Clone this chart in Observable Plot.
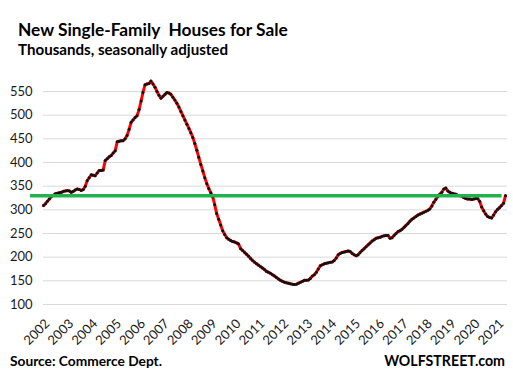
<!DOCTYPE html>
<html>
<head>
<meta charset="utf-8">
<script src="https://cdn.jsdelivr.net/npm/d3@7"></script>
<script src="https://cdn.jsdelivr.net/npm/@observablehq/plot@0.6"></script>
<style>
  body { margin: 0; background: #fff; }
  #chart { width: 513px; height: 382px; overflow: hidden; }
</style>
</head>
<body>
<div id="chart"></div>
<script>
// ---- Data: new single-family houses for sale, thousands, SA (monthly) ----
const startYear = 2002;
const v2002 = [309, 313, 318, 323, 328, 331, 334, 335, 336, 337, 339, 340];
const v2003 = [341, 340, 337, 339, 342, 344, 343, 341, 343, 350, 362, 368];
const v2004 = [374, 373, 372, 378, 383, 383, 384, 404, 408, 412, 415, 420];
const v2005 = [425, 444, 445, 446, 446, 450, 457, 470, 485, 490, 495, 499];
const v2006 = [512, 530, 548, 564, 566, 567, 572, 566, 559, 550, 542, 536];
const v2007 = [540, 544, 548, 547, 544, 538, 532, 525, 517, 508, 499, 490];
const v2008 = [481, 472, 463, 453, 440, 426, 411, 396, 382, 368, 355, 345];
const v2009 = [336, 327, 311, 292, 280, 268, 256, 248, 241, 238, 235, 233];
const v2010 = [232, 230, 228, 218, 214, 210, 206, 202, 197, 193, 189, 186];
const v2011 = [183, 180, 177, 174, 170, 168, 166, 163, 160, 157, 154, 151];
const v2012 = [149, 147, 146, 145, 144, 143, 142, 143, 145, 147, 149, 151];
const v2013 = [151, 152, 155, 160, 163, 168, 175, 182, 184, 186, 187, 188];
const v2014 = [189, 190, 193, 198, 205, 208, 210, 211, 212, 213, 212, 208];
const v2015 = [205, 203, 205, 210, 214, 218, 222, 226, 230, 234, 237, 240];
const v2016 = [241, 242, 244, 245, 246, 246, 240, 241, 246, 250, 254, 256];
const v2017 = [259, 263, 267, 271, 276, 280, 283, 286, 289, 291, 293, 295];
const v2018 = [297, 299, 302, 308, 316, 322, 328, 333, 337, 344, 346, 340];
const v2019 = [337, 335, 334, 333, 331, 330, 329, 326, 324, 323, 323, 322];
const v2020 = [323, 324, 324, 318, 306, 298, 291, 286, 284, 283, 289, 296];
const v2021 = [301, 305, 309, 314, 330];

const yTicks = [100, 150, 200, 250, 300, 350, 400, 450, 500, 550];
const xTickLabels = ["2002","2003","2004","2005","2006","2007","2008","2009","2010","2011",
                     "2012","2013","2014","2015","2016","2017","2018","2019","2020","2021"];
const refLevel = [330];
const refSpan = ["2001-06-15", "2021-03-10"];

const titleText = "New Single-Family  Houses for Sale";
const subtitleText = "Thousands, seasonally adjusted";
const sourceText = "Source: Commerce Dept.";
const brandText = "WOLFSTREET.com";

// ---- Build table ----
const yearsData = [v2002, v2003, v2004, v2005, v2006, v2007, v2008, v2009, v2010, v2011,
                   v2012, v2013, v2014, v2015, v2016, v2017, v2018, v2019, v2020, v2021];
const rows = [];
yearsData.forEach((arr, i) => arr.forEach((v, m) => rows.push({date: new Date(Date.UTC(startYear + i, m, 1)), value: v})));
const xTickDates = xTickLabels.map(s => new Date(Date.UTC(+s, 0, 1)));
const font = "Lato, 'Open Sans', sans-serif";

const plot = Plot.plot({
  width: 513,
  height: 382,
  marginTop: 91,
  marginBottom: 78,
  marginLeft: 43,
  marginRight: 6,
  style: {fontFamily: font, fontSize: "13px", color: "#1a1a1a", background: "#fff"},
  x: {type: "utc", domain: [rows[0].date, rows[rows.length - 1].date], range: [43, 505]},
  y: {domain: [100, 550]},
  marks: [
    Plot.gridY(yTicks, {stroke: "#d9d9d9", strokeOpacity: 1, strokeWidth: 1}),
    Plot.axisY(yTicks, {tickSize: 0, tickPadding: 11, fontSize: 13, fill: "#1a1a1a", label: null}),
    Plot.axisX(xTickDates, {tickSize: 0, tickPadding: 17, dx: 4, tickRotate: -45, tickFormat: d3.utcFormat("%Y"), fontSize: 13, fill: "#1a1a1a", label: null}),
    Plot.line(rows, {x: "date", y: "value", stroke: "#ff0000", strokeWidth: 3}),
    Plot.dot(rows, {x: "date", y: "value", r: 1.5, fill: "#111", stroke: "none"}),
    Plot.ruleY(refLevel, {x1: () => new Date(refSpan[0]), x2: () => new Date(refSpan[1]), stroke: "#22b14c", strokeWidth: 3.5})
  ]
});
document.getElementById("chart").appendChild(plot);

// ---- Titles / captions as real text, fitted to the reference widths ----
const svg = d3.select(plot);
function addText(txt, x, y, targetW, anchor) {
  const t = svg.append("text")
    .attr("x", x).attr("y", y)
    .attr("text-anchor", anchor || "start")
    .attr("font-family", font)
    .attr("font-weight", 700)
    .attr("font-size", 20)
    .attr("fill", "#000")
    .style("white-space", "pre")
    .attr("xml:space", "preserve")
    .text(txt);
  const w = t.node().getComputedTextLength();
  if (w > 0) t.attr("font-size", (20 * targetW / w).toFixed(2));
  return t;
}
addText(titleText, 18, 36, 270);
addText(subtitleText, 18, 55, 210);
addText(sourceText, 10, 366, 152);
addText(brandText, 505, 366, 121, "end");
</script>
</body>
</html>
